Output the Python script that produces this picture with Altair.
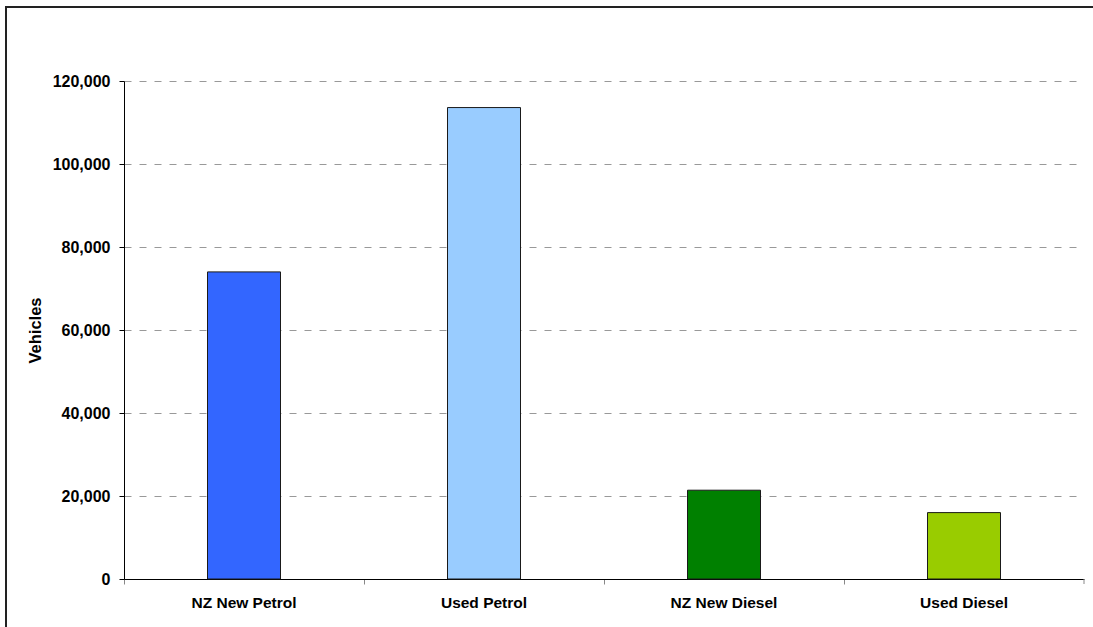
import altair as alt
import pandas as pd

categories = ["NZ New Petrol", "Used Petrol", "NZ New Diesel", "Used Diesel"]
vehicles = [74000, 113600, 21400, 16000]
colors = ["#3366FF", "#99CCFF", "#008000", "#99CC00"]

df = pd.DataFrame({"category": categories, "vehicles": vehicles})

W, H = 960, 498
FONT = "Liberation Sans"

x_enc = alt.X(
    "category:N",
    sort=categories,
    scale=alt.Scale(paddingInner=0, paddingOuter=0),
    axis=alt.Axis(
        title=None,
        labelAngle=0,
        labelFont=FONT,
        labelFontSize=15.5,
        labelFontWeight="bold",
        labelColor="#000000",
        labelPadding=11,
        bandPosition=0,
        tickSize=5,
        tickColor="#888888",
        domainColor="#000000",
        grid=False,
    ),
)

y_enc = alt.Y(
    "vehicles:Q",
    scale=alt.Scale(domain=[0, 120000], nice=False),
    axis=alt.Axis(
        title="Vehicles",
        titleFont=FONT,
        titleFontSize=16.5,
        titleFontWeight="bold",
        titleColor="#000000",
        titlePadding=9,
        values=[0, 20000, 40000, 60000, 80000, 100000, 120000],
        format=",d",
        labelFont=FONT,
        labelFontSize=16,
        labelFontWeight="bold",
        labelColor="#000000",
        labelPadding=9,
        tickSize=5,
        tickColor="#000000",
        domainColor="#000000",
        grid=True,
        gridColor="#999999",
        gridDash=[7, 8],
        gridWidth=1,
    ),
)

bars = alt.Chart(df).mark_bar(size=73, stroke="#1a1a1a", strokeWidth=1).encode(
    x=x_enc,
    y=y_enc,
    color=alt.Color("category:N", scale=alt.Scale(domain=categories, range=colors), legend=None),
)

frame_df = pd.DataFrame({"k": [0]})
frame_top = alt.Chart(frame_df).mark_rule(color="#222222", strokeWidth=2).encode(
    x=alt.value(-119), x2=alt.value(W + 20), y=alt.value(-74)
)
frame_left = alt.Chart(frame_df).mark_rule(color="#222222", strokeWidth=2).encode(
    x=alt.value(-118), y=alt.value(-75), y2=alt.value(H + 60)
)
end_tick = alt.Chart(frame_df).mark_rule(color="#888888", strokeWidth=1).encode(
    x=alt.value(W), y=alt.value(H), y2=alt.value(H + 5)
)

chart = (
    alt.layer(frame_top, frame_left, bars, end_tick)
    .properties(
        width=W,
        height=H,
        autosize=alt.AutoSizeParams(type="none"),
        padding={"left": 124, "top": 81, "right": 9, "bottom": 48},
        background="#ffffff",
    )
    .configure_view(stroke=None)
)

chart.save("out.html", embed_options={"renderer": "svg", "actions": False})
